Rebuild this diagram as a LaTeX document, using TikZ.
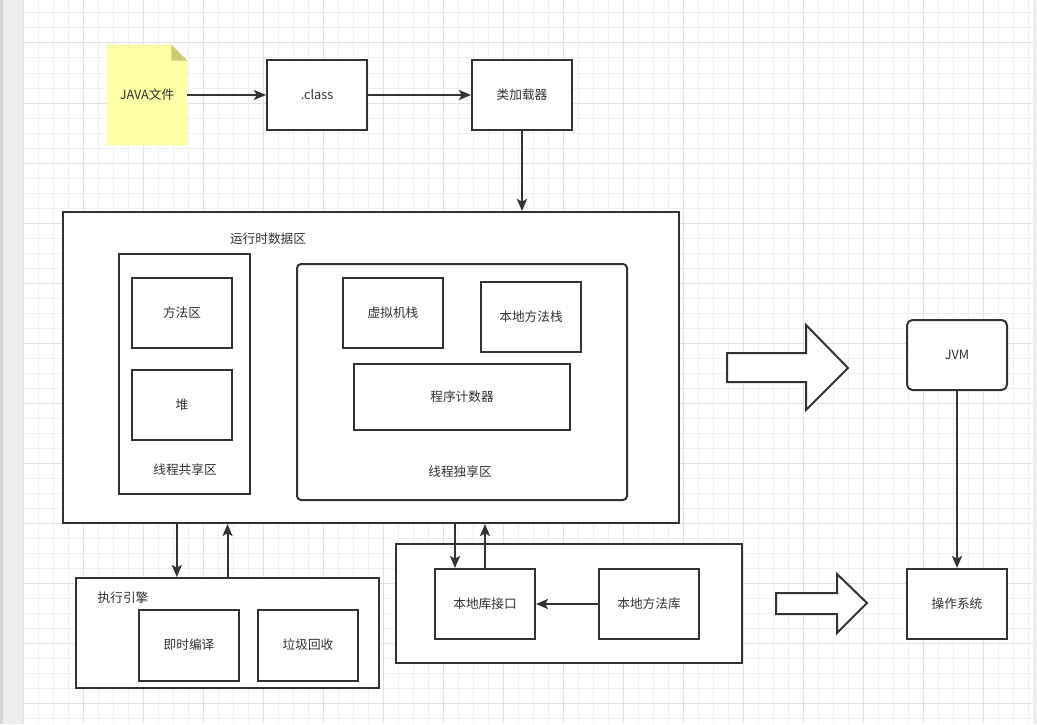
\documentclass[tikz,border=0pt]{standalone}
\usepackage{fontspec}
\usetikzlibrary{positioning,arrows.meta,backgrounds}
\newfontfamily\cjk{Noto Sans CJK SC}
\usepackage{xcolor}
\definecolor{jvmLine}{RGB}{51,51,51}
\definecolor{jvmText}{RGB}{51,51,51}
\definecolor{jvmGrid}{RGB}{240,240,240}
\definecolor{jvmGridMajor}{RGB}{226,226,226}
\definecolor{jvmNote}{RGB}{255,255,166}
\definecolor{jvmFold}{RGB}{204,204,115}
\definecolor{jvmEdge}{RGB}{238,238,238}
\definecolor{jvmEdgeDark}{RGB}{214,214,218}

\tikzset{
  box/.style={draw=jvmLine, line width=1.5pt, fill=white, inner sep=0pt,
    minimum width=75pt, minimum height=52.5pt, text=jvmText,
    font=\cjk\fontsize{9.5}{11}\selectfont},
  lbl/.style={text=jvmText, inner sep=0pt, font=\cjk\fontsize{9.5}{11}\selectfont},
  flow/.style={draw=jvmLine, line width=1.5pt,
    -{Stealth[length=9pt,width=7.5pt,inset=2pt]}},
  hollow/.style={draw=jvmLine, line width=1.5pt, fill=white, line join=miter},
}

\begin{document}
\begin{tikzpicture}[x=0.75pt, y=-0.75pt]
  \useasboundingbox (0,0) rectangle (1037,724);

  % grid paper
  \begin{scope}[on background layer]
    \fill[white] (0,0) rectangle (1037,724);
    \foreach \x in {23,38,...,1033}
      \draw[jvmGrid, line width=0.75pt] (\x,0) -- (\x,724);
    \foreach \y in {13,28,...,718}
      \draw[jvmGrid, line width=0.75pt] (23,\y) -- (1033,\y);
    \foreach \x in {23,83,...,983}
      \draw[jvmGridMajor, line width=0.75pt] (\x,0) -- (\x,724);
    \foreach \y in {43,103,...,703}
      \draw[jvmGridMajor, line width=0.75pt] (23,\y) -- (1033,\y);
    \fill[jvmEdge] (0,0) rectangle (23,724);
    \fill[jvmEdgeDark] (0,0) rectangle (3,724);
    \fill[jvmEdge] (1033,0) rectangle (1037,724);
  \end{scope}

  % top row
  \node[lbl, minimum width=60pt, minimum height=75pt] (java) at (147,95) {JAVA文件};
  \begin{scope}[on background layer]
    \fill[jvmNote] (java.south west) -- (java.north west)
      -- ([xshift=-12pt]java.north east) -- ([yshift=-12pt]java.north east)
      -- (java.south east) -- cycle;
    \fill[jvmFold] ([xshift=-12pt]java.north east)
      -- ([xshift=-12pt,yshift=-12pt]java.north east)
      -- ([yshift=-12pt]java.north east) -- cycle;
  \end{scope}
  \node[box] (cls) at (317,95) {.class};
  \node[box] (loader) at (522,95) {类加载器};

  % runtime data area
  \node[box, minimum width=462pt, minimum height=233.25pt] (rda) at (371,367.5) {};
  \node[lbl] (rdalbl) at (268,239) {运行时数据区};

  \node[box, minimum width=98.25pt, minimum height=180pt] (shared) at (184.5,374) {};
  \node[box] (method) at (182,313) {方法区};
  \node[box] (heap) at (182,405) {堆};
  \node[lbl] (sharedlbl) at (185,470) {线程共享区};

  \node[box, rounded corners=3pt, minimum width=247.5pt, minimum height=177pt] (private) at (462,382) {};
  \node[box] (vmstack) at (393,313) {虚拟机栈};
  \node[box] (nstack) at (531,317) {本地方法栈};
  \node[box, minimum width=162pt, minimum height=49.5pt] (pc) at (462,397) {程序计数器};
  \node[lbl] (privatelbl) at (460,472) {线程独享区};

  % execution engine
  \node[box, minimum width=227.25pt, minimum height=82.5pt] (exec) at (227.5,633) {};
  \node[lbl] (execlbl) at (123,598) {执行引擎};
  \node[box, minimum height=53.25pt] (jit) at (189,645) {即时编译};
  \node[box, minimum height=53.25pt] (gc) at (308,645) {垃圾回收};

  % native side
  \node[box, minimum width=259.5pt, minimum height=89.25pt] (native) at (569,603.5) {};
  \node[box] (nif) at (485,604) {本地库接口};
  \node[box] (nlib) at (649,604) {本地方法库};

  % right column
  \node[box, rounded corners=4pt] (jvm) at (957,355) {JVM};
  \node[box] (os) at (957,604) {操作系统};

  % connectors
  \draw[flow] (java.east) -- (cls.west);
  \draw[flow] (cls.east) -- (loader.west);
  \draw[flow] (loader.south) -- (loader.south |- rda.north);

  \coordinate (execdn) at ([xshift=-38pt]exec.north);
  \draw[flow] (execdn |- rda.south) -- (execdn);
  \draw[flow] (exec.north) -- (exec.north |- rda.south);

  \coordinate (nifdn) at ([xshift=-22.5pt]nif.north);
  \draw[flow] (nifdn |- rda.south) -- (nifdn);
  \draw[flow] (nif.north) -- (nif.north |- rda.south);
  \draw[flow] (nlib.west) -- (nif.east);

  \draw[flow] (jvm.south) -- (os.north);

  % hollow block arrows
  \draw[hollow] (727,353) -- (806,353) -- (806,325) -- (848,368)
    -- (806,410) -- (806,382) -- (727,382) -- cycle;
  \draw[hollow] (776,593) -- (837,593) -- (837,574) -- (867,603)
    -- (837,633) -- (837,614) -- (776,614) -- cycle;
\end{tikzpicture}
\end{document}
